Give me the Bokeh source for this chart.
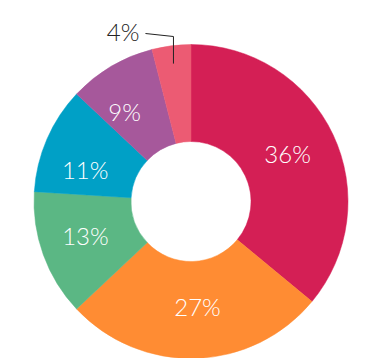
import math
from bokeh.plotting import figure
from bokeh.models import ColumnDataSource
from bokeh.core.properties import value
from bokeh.embed import file_html
from bokeh.resources import INLINE

labels = ["36%", "27%", "13%", "11%", "9%", "4%"]
shares = [36, 27, 13, 11, 9, 4]
colors = ["#D41F55", "#FF8C33", "#5BB784", "#00A0C6", "#A6589B", "#EC5B73"]

# layout: label placement nudges (degrees) and radii for the in-slice labels
label_nudge = [0.3, 1.7, -1.0, 7.5, 6.5]
label_radius = [107, 107, 111.5, 110, 110]

R_OUT, R_IN = 157, 60

starts, ends = [], []
cum = 0.0
total = float(sum(shares))
for s in shares:
    a0 = math.pi / 2 - 2 * math.pi * cum / total
    cum += s
    a1 = math.pi / 2 - 2 * math.pi * cum / total
    starts.append(a0)
    ends.append(a1)

lx, ly = [], []
for i in range(len(labels) - 1):
    mid = (starts[i] + ends[i]) / 2 + math.radians(label_nudge[i])
    lx.append(label_radius[i] * math.cos(mid))
    ly.append(label_radius[i] * math.sin(mid))

src = ColumnDataSource(dict(start=starts, end=ends, color=colors))

W, H = 364, 358
p = figure(width=W, height=H, x_range=(-190.5, 173.5), y_range=(-157, 201),
           output_backend="svg", toolbar_location=None, min_border=0)
p.axis.visible = False
p.grid.visible = False
p.outline_line_color = None
p.background_fill_color = "white"

p.annular_wedge(x=0, y=0, inner_radius=R_IN, outer_radius=R_OUT,
                start_angle="start", end_angle="end", direction="clock",
                fill_color="color", line_color="color", line_width=0.5, source=src)

FONT = value("Lato Light")
inner = dict(x=lx, y=ly, t=labels[:-1])
p.text(x="x", y="y", text="t", source=ColumnDataSource(inner),
       text_align="center", text_baseline="middle", text_color="white",
       text_font=FONT, text_font_size="24px", y_offset=-2)

# small slice: leader line + outside label
mid = (starts[-1] + ends[-1]) / 2
bx = 140 * math.cos(mid)
y0 = 139 * math.sin(mid)
y1 = 165
p.line(x=[bx, bx, bx - 28], y=[y0, y1, y1 + 3], line_color="#222222", line_width=1)
p.text(x=[bx - 34], y=[y1 + 3], text=[labels[-1]], text_align="right",
       text_baseline="middle", text_color="#222222",
       text_font=FONT, text_font_size="24px", y_offset=-2)

open("out.html", "w").write(file_html(p, INLINE))
